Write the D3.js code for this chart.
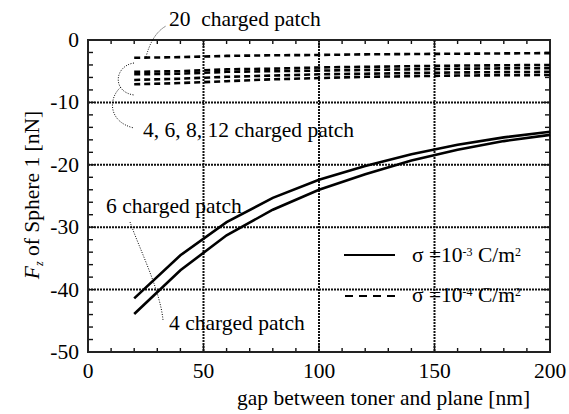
<!DOCTYPE html>
<html>
<head>
<meta charset="utf-8">
<script src="https://cdn.jsdelivr.net/npm/d3@7"></script>
<style>
  html, body { margin: 0; padding: 0; background: #fff; }
  svg { display: block; }
</style>
</head>
<body>
<svg id="chart" width="569" height="414" font-family="'Liberation Serif', 'DejaVu Serif', serif"></svg>
<script>
// Gap between toner and plane [nm]
const gaps = [20, 40, 60, 80, 100, 120, 140, 160, 180, 200];

// sigma = 1e-3 C/m^2 (solid lines)
const solid4 = [-43.9, -36.9, -31.3, -27.2, -24.0, -21.5, -19.3, -17.6, -16.2, -15.2];
const solid6 = [-41.4, -34.5, -29.2, -25.3, -22.4, -20.2, -18.3, -16.8, -15.6, -14.7];

// sigma = 1e-4 C/m^2 (dashed lines)
const dash4  = [-7.1, -6.9, -6.6, -6.3, -6.1, -5.9, -5.8, -5.7, -5.65, -5.6];
const dash6  = [-6.4, -6.2, -5.9, -5.7, -5.5, -5.4, -5.3, -5.2, -5.15, -5.1];
const dash8  = [-5.5, -5.4, -5.1, -5.0, -4.9, -4.8, -4.7, -4.6, -4.55, -4.5];
const dash12 = [-5.1, -5.0, -4.7, -4.6, -4.4, -4.3, -4.2, -4.1, -4.05, -4.0];
const dash20 = [-2.85, -2.75, -2.55, -2.45, -2.4, -2.3, -2.25, -2.2, -2.15, -2.1];

const xTicks = [0, 50, 100, 150, 200];
const yTicks = [0, -10, -20, -30, -40, -50];

const svg = d3.select("#chart");
const m = { left: 88, right: 550, top: 40, bottom: 352 };
const FS = 21.5;

const x = d3.scaleLinear().domain([0, 200]).range([m.left, m.right]);
const y = d3.scaleLinear().domain([-50, 0]).range([m.bottom, m.top]);

// Dotted grid
const grid = svg.append("g")
  .attr("stroke", "#111").attr("stroke-width", 2).attr("stroke-dasharray", "2,1");
grid.selectAll("line.gx").data([50, 100, 150]).join("line")
  .attr("x1", d => x(d)).attr("x2", d => x(d))
  .attr("y1", m.top).attr("y2", m.bottom);
grid.selectAll("line.gy").data([-10, -20, -30, -40]).join("line")
  .attr("x1", m.left).attr("x2", m.right)
  .attr("y1", d => y(d)).attr("y2", d => y(d));

// Inward minor ticks on all four sides
const tickG = svg.append("g").attr("stroke", "#111").attr("stroke-width", 1.4);
const xMinor = d3.range(0, 201, 10);
const yMinor = d3.range(-50, 1, 2);
xMinor.forEach(v => {
  const len = v % 50 === 0 ? 7 : 4;
  tickG.append("line").attr("x1", x(v)).attr("x2", x(v)).attr("y1", m.bottom).attr("y2", m.bottom - len);
  tickG.append("line").attr("x1", x(v)).attr("x2", x(v)).attr("y1", m.top).attr("y2", m.top + len);
});
yMinor.forEach(v => {
  const len = v % 10 === 0 ? 7 : 5;
  tickG.append("line").attr("y1", y(v)).attr("y2", y(v)).attr("x1", m.left).attr("x2", m.left + len);
  tickG.append("line").attr("y1", y(v)).attr("y2", y(v)).attr("x1", m.right).attr("x2", m.right - len);
});

// Frame
svg.append("rect")
  .attr("x", m.left).attr("y", m.top)
  .attr("width", m.right - m.left).attr("height", m.bottom - m.top)
  .attr("fill", "none").attr("stroke", "#222").attr("stroke-width", 2);

// Tick labels
svg.append("g").selectAll("text").data(xTicks).join("text")
  .attr("x", d => x(d)).attr("y", 378)
  .attr("text-anchor", "middle").attr("font-size", FS)
  .text(d => d);
svg.append("g").selectAll("text").data(yTicks).join("text")
  .attr("x", 79).attr("y", d => y(d) + 7)
  .attr("text-anchor", "end").attr("font-size", FS)
  .text(d => d === 0 ? "0" : "-" + Math.abs(d));

// Axis titles
svg.append("text")
  .attr("x", 237).attr("y", 405)
  .attr("font-size", FS)
  .text("gap between toner and plane [nm]");

const yt = svg.append("text")
  .attr("transform", "translate(39,195) rotate(-90)")
  .attr("text-anchor", "middle").attr("font-size", FS);
yt.append("tspan").attr("font-style", "italic").text("F");
yt.append("tspan").attr("font-style", "italic").attr("font-size", 12).attr("dy", 4).text("z");
yt.append("tspan").attr("dy", -4).text(" of  Sphere 1 [nN]");

// Data lines
const line = d3.line().x(d => x(d[0])).y(d => y(d[1]));
const pairs = vals => gaps.map((g, i) => [g, vals[i]]);

[solid4, solid6].forEach(vals => {
  svg.append("path").datum(pairs(vals))
    .attr("d", line).attr("fill", "none")
    .attr("stroke", "#000").attr("stroke-width", 2.6);
});
[dash4, dash6, dash8, dash12, dash20].forEach(vals => {
  svg.append("path").datum(pairs(vals))
    .attr("d", line).attr("fill", "none")
    .attr("stroke", "#000").attr("stroke-width", 2.6)
    .attr("stroke-dasharray", "6,4");
});

// Annotations
const ann = svg.append("g").attr("font-size", FS);
ann.append("text").attr("x", 169).attr("y", 26).text("20\u00a0 charged patch");
ann.append("text").attr("x", 143).attr("y", 137).text("4, 6, 8, 12 charged patch");
ann.append("text").attr("x", 106).attr("y", 213).text("6 charged patch");
ann.append("text").attr("x", 169).attr("y", 330).text("4 charged patch");

// Dotted leaders
const lead = svg.append("g").attr("fill", "none").attr("stroke", "#000")
  .attr("stroke-width", 1).attr("stroke-dasharray", "1,1.5");
lead.append("path").attr("d", "M146,57 Q152,34 166,26");
lead.append("path").attr("d", "M134,63 C114,66 112,92 134,95");
lead.append("path").attr("d", "M121,87 C108,98 108,122 134,128");
lead.append("path").attr("d", "M130,222 C140,250 160,290 163,320");

// Legend
const leg = svg.append("g");
leg.append("line").attr("x1", 344).attr("x2", 395).attr("y1", 255).attr("y2", 255)
  .attr("stroke", "#000").attr("stroke-width", 2.2);
leg.append("line").attr("x1", 345).attr("x2", 395).attr("y1", 296).attr("y2", 296)
  .attr("stroke", "#000").attr("stroke-width", 2.2).attr("stroke-dasharray", "8,6");

function legendText(yb, exp) {
  const t = leg.append("text").attr("x", 412).attr("y", yb).attr("font-size", FS);
  t.append("tspan").text("\u03c3 =10");
  t.append("tspan").attr("font-size", 12).attr("dy", -6).text(exp);
  t.append("tspan").attr("dy", 6).text(" C/m");
  t.append("tspan").attr("font-size", 12).attr("dy", -6).text("2");
}
legendText(262, "-3");
legendText(302, "-4");
</script>
</body>
</html>
